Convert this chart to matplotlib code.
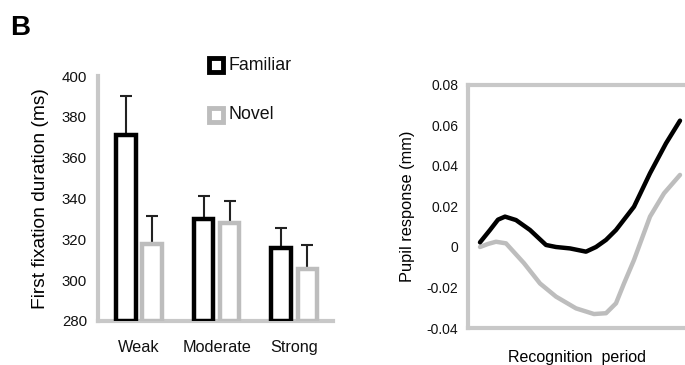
import matplotlib
matplotlib.use("Agg")
import matplotlib.pyplot as plt
import numpy as np
from matplotlib.lines import Line2D

plt.rcParams['font.family'] = ['Liberation Sans', 'DejaVu Sans']

# ---- data: bar chart ----
categories = ["Weak", "Moderate", "Strong"]
familiar = [371, 330, 316]
familiar_err = [19, 11, 9.5]
novel = [317.5, 328, 305.7]
novel_err = [14, 11, 11.5]
bar_yticks = [280, 300, 320, 340, 360, 380, 400]
legend_labels = ["Familiar", "Novel"]

# ---- data: pupil response ----
fam_x = [0, 5, 9, 12.5, 18, 25, 33, 38, 45, 53, 58, 63, 68, 77, 85, 93, 100]
fam_y = [0.0023, 0.0084, 0.0135, 0.015, 0.0133, 0.0084, 0.001, 0.0, -0.0007, -0.0023,
         0.0, 0.0035, 0.0084, 0.0199, 0.0364, 0.0512, 0.0624]
nov_x = [0, 4, 8, 13, 22, 30, 38, 48, 57, 63, 68, 72, 77, 85, 92, 100]
nov_y = [0.0, 0.0015, 0.0026, 0.0018, -0.008, -0.018, -0.0245, -0.0303, -0.0331,
         -0.0327, -0.0278, -0.018, -0.0064, 0.015, 0.0265, 0.0356]
pupil_yticks = [-0.04, -0.02, 0, 0.02, 0.04, 0.06, 0.08]
pupil_ylabels = ["-0.04", "-0.02", "0", "0.02", "0.04", "0.06", "0.08"]

BLACK = "#000000"
GRAY = "#bdbdbd"
FRAME = "#c8c8c8"

W, H = 685, 365
fig = plt.figure(figsize=(W / 100, H / 100), dpi=100)

def ax_rect(x0, y0, x1, y1):
    return [x0 / W, 1 - y1 / H, (x1 - x0) / W, (y1 - y0) / H]

# ---------------- Left: bar chart ----------------
ax1 = fig.add_axes(ax_rect(98, 76, 333, 321))
x = np.arange(len(categories))
off = 0.168
bw = 0.25
ax1.bar(x - off, [f - 280 for f in familiar], bottom=280, width=bw, facecolor="white",
        edgecolor=BLACK, linewidth=3.2, zorder=3)
ax1.bar(x + off, [n - 280 for n in novel], bottom=280, width=bw, facecolor="white",
        edgecolor=GRAY, linewidth=3.2, zorder=3)
ax1.errorbar(x - off, familiar, yerr=[np.zeros(3), familiar_err], fmt="none",
             ecolor="#222222", elinewidth=1.5, capsize=4, capthick=1.5, zorder=2)
ax1.errorbar(x + off, novel, yerr=[np.zeros(3), novel_err], fmt="none",
             ecolor="#222222", elinewidth=1.5, capsize=4, capthick=1.5, zorder=2)
ax1.set_xlim(-0.53, 2.5)
ax1.set_ylim(280, 400)
ax1.set_yticks(bar_yticks)
ax1.set_xticks(x)
ax1.set_xticklabels(categories, fontsize=11.7)
ax1.tick_params(axis="y", length=0, labelsize=10.8, colors="#111111", pad=8)
ax1.tick_params(axis="x", length=0, colors="#111111", pad=14)
for s in ["top", "right"]:
    ax1.spines[s].set_visible(False)
for s in ["left", "bottom"]:
    ax1.spines[s].set_color(FRAME)
    ax1.spines[s].set_linewidth(3)
ax1.set_ylabel("First fixation duration (ms)", fontsize=13.8, labelpad=9)

# legend (figure coordinates)
for lab, col, yc in zip(legend_labels, [BLACK, GRAY], [65, 115]):
    fig.add_artist(Line2D([216 / W], [1 - yc / H], marker="s", linestyle="none",
                          markersize=10.5, markerfacecolor="white", markeredgecolor=col,
                          markeredgewidth=3.5, transform=fig.transFigure))
    fig.text(228 / W, 1 - yc / H, lab, fontsize=12.8, ha="left", va="center",
             color="#111111")

# ---------------- Right: pupil response ----------------
ax2 = fig.add_axes(ax_rect(468, 85, 685, 328))
ax2.plot(nov_x, nov_y, color=GRAY, linewidth=3.2, solid_capstyle="round",
         solid_joinstyle="round")
ax2.plot(fam_x, fam_y, color=BLACK, linewidth=3.2, solid_capstyle="round",
         solid_joinstyle="round")
ax2.set_xlim(-6, 102.5)
ax2.set_ylim(-0.04, 0.08)
ax2.set_yticks(pupil_yticks)
ax2.set_yticklabels(pupil_ylabels)
ax2.set_xticks([])
ax2.tick_params(axis="y", length=0, labelsize=10, pad=7, colors="#111111")
ax2.spines["right"].set_visible(False)
for s in ["left", "top", "bottom"]:
    ax2.spines[s].set_color(FRAME)
    ax2.spines[s].set_linewidth(3)
ax2.set_ylabel("Pupil response (mm)", fontsize=11.8, labelpad=8)
ax2.set_xlabel("Recognition  period", fontsize=11.5, labelpad=16)

fig.text(10 / W, 1 - 35 / H, "B", fontsize=20, fontweight="bold", ha="left",
         va="baseline")

fig.savefig("out.png", dpi=100)
